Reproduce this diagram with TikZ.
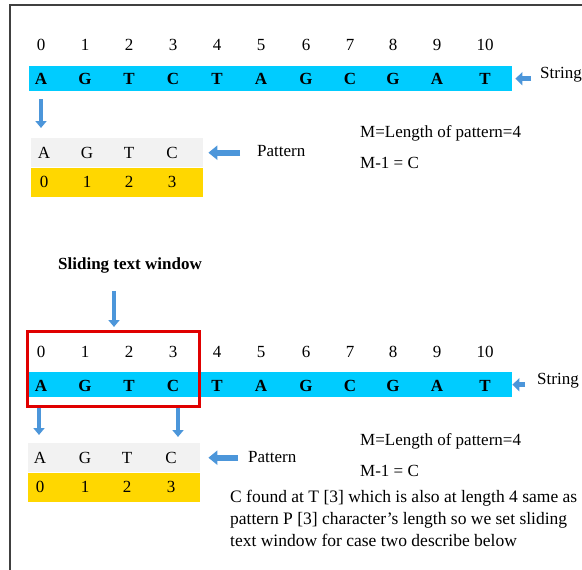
\documentclass[tikz,border=0pt]{standalone}
\usepackage{fontspec}
\setmainfont{Liberation Serif}
\usepackage{tikz}
\usetikzlibrary{positioning,arrows.meta}

\definecolor{barcyan}{RGB}{0,204,255}
\definecolor{patgrey}{RGB}{242,242,242}
\definecolor{patyellow}{RGB}{255,215,0}
\definecolor{arrowblue}{RGB}{76,150,218}
\definecolor{winred}{RGB}{224,0,0}

\begin{document}
\begin{tikzpicture}[x=1pt,y=-1pt,>=latex,
    every node/.style={font=\fontsize{17}{22}\selectfont,inner sep=0pt},
    strbar/.style={fill=barcyan,minimum width=483,minimum height=25,anchor=north west},
    patcell/.style={minimum width=172,minimum height=29,anchor=north west},
    letter/.style={font=\fontsize{17}{22}\selectfont\bfseries},
    downarrow/.style={draw=arrowblue,line width=4pt,-{Triangle[width=11pt,length=7pt]}},
    sidearrow/.style={draw=arrowblue,line width=6pt,-{Triangle[width=14pt,length=9pt]}},
    winbox/.style={draw=winred,line width=2.5pt,minimum width=172,minimum height=75,anchor=north west}]

    \useasboundingbox (0,0) rectangle (582,570);
    \draw[line width=1.5pt,black!75] (10,570) -- (10,5) -- (582,5);

    \node[strbar] (bar1) at (29,66) {};
    \foreach \x/\c [count=\i from 0] in {41/A,85/G,129/T,173/C,217/T,261/A,306/G,350/C,393/G,437/A,485/T}{
        \node (ti\i) at (\x,45) {\i};
        \node[letter] (tc\i) at (\x,79) {\c};
    }
    \node[anchor=west] (str1) at (540,75) {String};
    \draw[sidearrow,line width=5pt,-{Triangle[width=13pt,length=7pt]},shorten <=9pt,shorten >=3pt] (str1.west |- bar1.east) -- (bar1.east);

    \node[patcell,fill=patgrey] (pg1) at (31,138) {};
    \node[patcell,fill=patyellow,below=0pt of pg1] (py1) {};
    \foreach \x/\c [count=\i from 0] in {44/A,87/G,129/T,172/C}{
        \node (pc\i) at (\x,153) {\c};
        \node (pn\i) at (\x,182) {\i};
    }
    \draw[downarrow,shorten <=8pt,shorten >=10pt] (tc0 |- bar1.south) -- (tc0 |- pg1.north);

    \node[anchor=west] (pat1) at (257,151) {Pattern};
    \draw[sidearrow,shorten <=17pt,shorten >=5pt] (pat1.west |- pg1.east) -- (pg1.east);

    \path (360,133) node[anchor=west] (mlen1) {M=Length of pattern=4}
        +(0,30) node[anchor=west] (mone1) {M-1 = C};

    \node[font=\fontsize{17}{22}\selectfont\bfseries] (slide) at (130,265) {Sliding text window};

    \node[strbar] (bar2) at (29,372) {};
    \foreach \x/\c [count=\i from 0] in {41/A,85/G,129/T,173/C,217/T,261/A,306/G,350/C,393/G,437/A,485/T}{
        \node (bi\i) at (\x,352) {\i};
        \node[letter] (bc\i) at (\x,386) {\c};
    }
    \node[winbox] (win) at (26,330) {};
    \coordinate (slidetip) at (114,327);
    \draw[downarrow,shorten <=18pt] (slidetip |- slide.south) -- (slidetip);

    \node[anchor=west] (str2) at (537,381) {String};
    \draw[sidearrow,line width=5pt,-{Triangle[width=13pt,length=7pt]},shorten <=12pt] (str2.west |- bar2.east) -- (bar2.east);

    \node[patcell,fill=patgrey] (pg2) at (28,443) {};
    \node[patcell,fill=patyellow,below=0pt of pg2] (py2) {};
    \foreach \x/\c [count=\i from 0] in {40/A,85/G,127/T,171/C}{
        \node (qc\i) at (\x,458) {\c};
        \node (qn\i) at (\x,487) {\i};
    }
    \coordinate (dl) at (39,0);
    \coordinate (dr) at (178,0);
    \draw[downarrow,shorten >=8pt] (dl |- win.south) -- (dl |- pg2.north);
    \draw[downarrow,shorten >=6pt] (dr |- win.south) -- (dr |- pg2.north);

    \node[anchor=west] (pat2) at (248,457) {Pattern};
    \draw[sidearrow,shorten <=10pt,shorten >=8pt] (pat2.west |- pg2.east) -- (pg2.east);

    \path (360,441) node[anchor=west] (mlen2) {M=Length of pattern=4}
        +(0,30) node[anchor=west] (mone2) {M-1 = C};
    \node[anchor=north west,align=left,font=\fontsize{17.5}{22}\selectfont] (note) at (230,490)
        {C found at T [3] which is also at length 4 same as\\
         pattern P [3] character’s length so we set sliding\\
         text window for case two describe below};

\end{tikzpicture}
\end{document}
